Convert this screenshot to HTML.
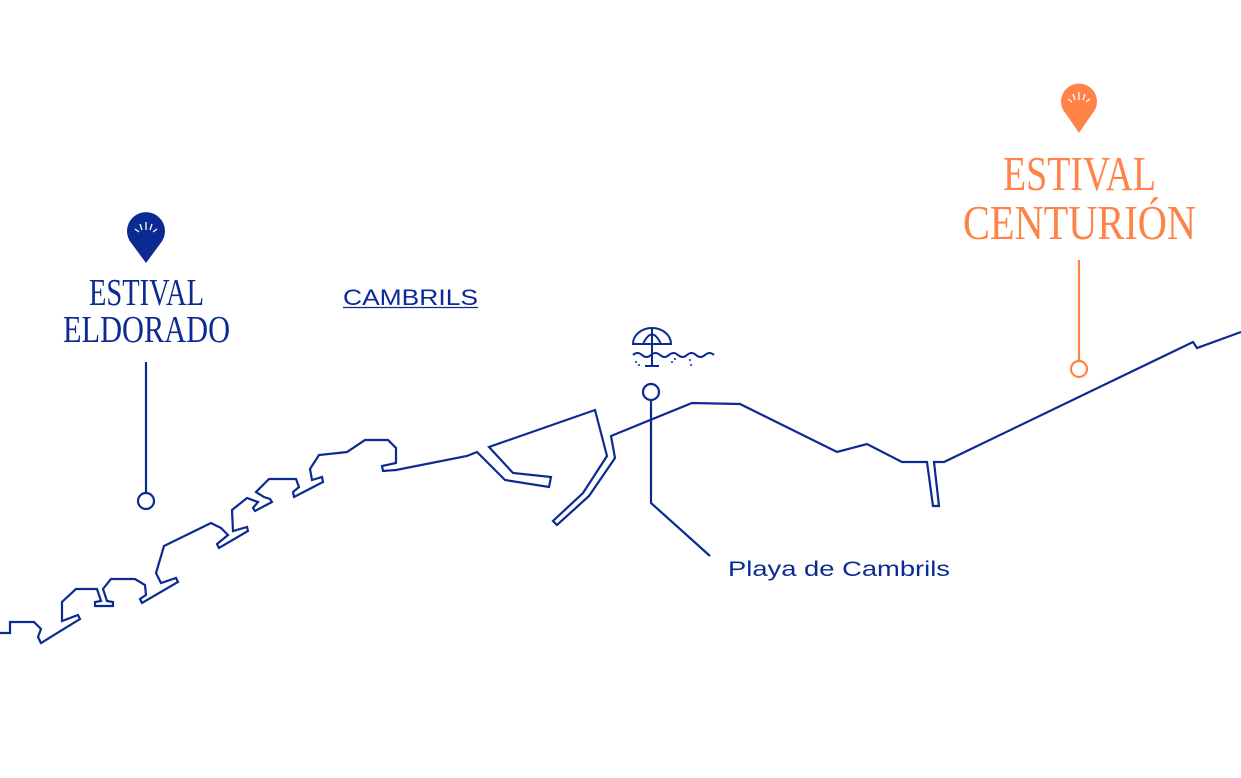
<!DOCTYPE html>
<html><head><meta charset="utf-8"><style>
html,body{margin:0;padding:0;background:#fff;}
svg{display:block;}
</style></head><body>
<svg width="1241" height="778" viewBox="0 0 1241 778" xmlns="http://www.w3.org/2000/svg">
<g fill="none" stroke="#0b2a92" stroke-width="2.2" stroke-linejoin="miter">
<polyline points="0,633 10,633 10,622 34,622 41,629 38,637 41,643 80,619 78,615 62,621 62,602 76,589 97,589 101,601 95,602 95,606 113,606 113,602 107,601 103,589 111,579 135,579 145,585 146,595 140,599 142,603 178,582 176,578 161,583 156,573 164,546 211,523 221,528 228,535 217,544 219,548 248,531 247,527 233,531 232,510 247,498 258,502 253,508 255,511 272,502 270,499 264,497 256,492 269,479 296,479 299,487 293,492 294,497 323,482 322,477 312,480 310,469 319,455 347,452 365,440 388,440 396,448 396,463 382,466 383,471 396,470 467,456 477,452 505,480 549,487 551,477 513,473 489,447 595,410 607,456 583,493 553,521 557,525 589,496 615,458 611,436 692,403 740,404 837,452 867,444 902,462 927,462 933,506 939,506 934,462 944,462 1193,342 1197,348 1241,332"/>
<line x1="146" y1="362" x2="146" y2="493"/>
<circle cx="146" cy="501" r="8"/>
<circle cx="651" cy="392" r="8"/>
<polyline points="651,400 651,503 710,556"/>
</g>
<g fill="none" stroke="#ff8349" stroke-width="2.2">
<line x1="1079" y1="260" x2="1079" y2="361"/>
<circle cx="1079" cy="369" r="8"/>
</g>
<g fill="none" stroke="#0b2a92" stroke-width="2">
<path d="M633,344 A19,16 0 0 1 671,344 Z"/>
<path d="M652,328 V366 M645,366 H659 M643,344 Q652,325 661,344"/>
<path d="M633,355 q4.5,-4 9,0 t9,0 t9,0 t9,0 t9,0 t9,0 t9,0 t9,0 t9,0"/>
</g>
<g fill="#0b2a92"><circle cx="636" cy="362" r="1"/><circle cx="639" cy="365" r="1"/><circle cx="672" cy="362" r="1"/><circle cx="675" cy="359" r="1"/><circle cx="690" cy="360" r="1"/><circle cx="691" cy="365" r="1"/></g>
<g>
<path d="M146,263 L132,244 A19,19 0 1 1 160,244 Z" fill="#0b2a92"/>
<g stroke="#fff" stroke-width="1.3" fill="none"><line x1="146" y1="222" x2="146" y2="230"/><line x1="140" y1="224" x2="142" y2="230"/><line x1="152" y1="224" x2="150" y2="230"/><line x1="135" y1="229" x2="139" y2="232"/><line x1="157" y1="229" x2="153" y2="232"/></g>
<path d="M1079,133 L1066,114 A18,18 0 1 1 1092,114 Z" fill="#ff8349"/>
<g stroke="#fff" stroke-width="1.3" fill="none"><line x1="1079" y1="92" x2="1079" y2="100"/><line x1="1073" y1="94" x2="1075" y2="100"/><line x1="1085" y1="94" x2="1083" y2="100"/><line x1="1068" y1="99" x2="1072" y2="102"/><line x1="1090" y1="99" x2="1086" y2="102"/></g>
</g>
<g font-family="'Liberation Serif', serif" fill="#0b2a92" font-size="38">
<text x="89" y="305" textLength="115" lengthAdjust="spacingAndGlyphs">ESTIVAL</text>
<text x="63" y="342" textLength="167" lengthAdjust="spacingAndGlyphs">ELDORADO</text>
</g>
<g font-family="'Liberation Serif', serif" fill="#ff8349" font-size="49">
<text x="1003" y="190" textLength="153" lengthAdjust="spacingAndGlyphs">ESTIVAL</text>
<text x="963" y="239" textLength="233" lengthAdjust="spacingAndGlyphs">CENTURIÓN</text>
</g>
<g font-family="'Liberation Sans', sans-serif" fill="#0b2a92">
<text x="343" y="305" font-size="22" textLength="135" lengthAdjust="spacingAndGlyphs">CAMBRILS</text>
<line x1="343" y1="307.5" x2="478" y2="307.5" stroke="#0b2a92" stroke-width="1.3"/>
<text x="728" y="576" font-size="21" textLength="222" lengthAdjust="spacingAndGlyphs">Playa de Cambrils</text>
</g>
</svg>
</body></html>
